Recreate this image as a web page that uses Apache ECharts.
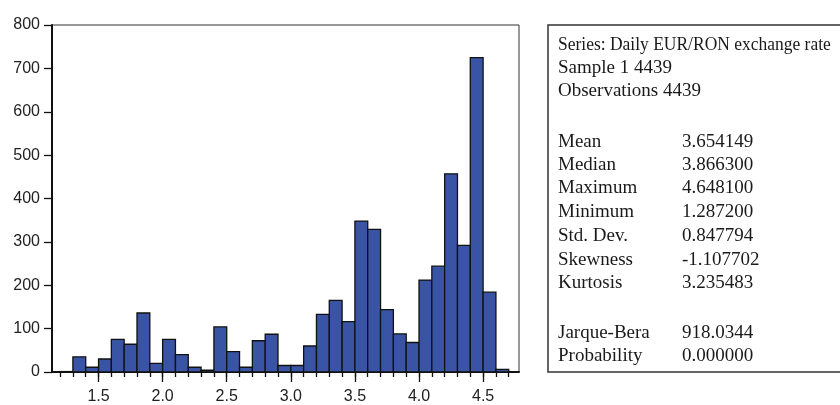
<!DOCTYPE html>
<html>
<head>
<meta charset="utf-8">
<script src="https://cdn.jsdelivr.net/npm/echarts@6/dist/echarts.min.js"></script>
<style>html,body{margin:0;padding:0;background:#fff}#c{width:840px;height:405px}</style>
</head>
<body>
<div id="c"></div>
<script>
// Histogram bins (lower edge, upper edge) and counts
const binStarts = [1.2,1.3,1.4,1.5,1.6,1.7,1.8,1.9,2.0,2.1,2.2,2.3,2.4,2.5,2.6,2.7,2.8,2.9,3.0,3.1,3.2,3.3,3.4,3.5,3.6,3.7,3.8,3.9,4.0,4.1,4.2,4.3,4.4,4.5,4.6];
const binWidth = 0.1;
const counts = [1,35,11,30,75,64,136,20,75,40,11,4,104,47,11,72,87,15,15,60,133,165,116,348,329,144,88,68,212,244,457,292,725,184,6];
const xTickLabels = [1.5,2.0,2.5,3.0,3.5,4.0,4.5];
const xMinorTicks = [1.2,1.3,1.4,1.5,1.6,1.7,1.8,1.9,2.0,2.1,2.2,2.3,2.4,2.5,2.6,2.7,2.8,2.9,3.0,3.1,3.2,3.3,3.4,3.5,3.6,3.7,3.8,3.9,4.0,4.1,4.2,4.3,4.4,4.5,4.6,4.7];
const headerLines = ["Series: Daily EUR/RON exchange rate","Sample 1 4439","Observations 4439"];
const statLabels = ["Mean","Median","Maximum","Minimum","Std. Dev.","Skewness","Kurtosis"];
const statValues = ["3.654149","3.866300","4.648100","1.287200","0.847794","-1.107702","3.235483"];
const testLabels = ["Jarque-Bera","Probability"];
const testValues = ["918.0344","0.000000"];

const chart = echarts.init(document.getElementById('c'), null, {renderer:'canvas'});
const data = binStarts.map((s,i)=>[s, s+binWidth, counts[i]]);

const serif = "'Liberation Serif', 'Times New Roman', serif";
const sans = "'Liberation Sans', Arial, sans-serif";
const txtCol = '#1a1a1a';
const graphics = [{
  type:'rect', shape:{x:548, y:25, width:320, height:347},
  style:{fill:'none', stroke:'#333', lineWidth:1.5}, z:10
}];
const rowY = [45,68,91];
headerLines.forEach((t,i)=>graphics.push({type:'text', x:558, y:rowY[i], scaleX:(i===0?0.92:1), style:{text:t, font:'19px '+serif, fill:txtCol, textVerticalAlign:'middle'}}));
const statY = [142,165,188,212,236,260,283];
statLabels.forEach((t,i)=>{
  graphics.push({type:'text', x:558, y:statY[i], style:{text:t, font:'19px '+serif, fill:txtCol, textVerticalAlign:'middle'}});
  graphics.push({type:'text', x:682, y:statY[i], style:{text:statValues[i], font:'19px '+serif, fill:txtCol, textVerticalAlign:'middle'}});
});
const testY = [333,356];
testLabels.forEach((t,i)=>{
  graphics.push({type:'text', x:558, y:testY[i], style:{text:t, font:'19px '+serif, fill:txtCol, textVerticalAlign:'middle'}});
  graphics.push({type:'text', x:682, y:testY[i], style:{text:testValues[i], font:'19px '+serif, fill:txtCol, textVerticalAlign:'middle'}});
});

chart.setOption({
  animation:false,
  grid:{left:52, top:25, right:321, bottom:30, show:true, borderColor:'#333', borderWidth:1},
  xAxis:[{
    type:'value', min:1.137, max:4.78,
    axisLine:{show:true, lineStyle:{color:'#111', width:2}},
    axisTick:{show:true, customValues:xMinorTicks, length:5, lineStyle:{color:'#111', width:1.3}},
    axisLabel:{show:false},
    splitLine:{show:false}
  },{
    type:'value', min:1.137, max:4.78, position:'bottom',
    axisLine:{show:false},
    axisTick:{show:true, customValues:xTickLabels, length:10, lineStyle:{color:'#111', width:1.3}},
    axisLabel:{show:true, customValues:xTickLabels, margin:17, color:'#222', fontFamily:sans, fontSize:16,
      formatter:v=>v.toFixed(1)},
    splitLine:{show:false}
  }],
  yAxis:{
    type:'value', min:0, max:800, interval:100,
    axisLine:{show:true, lineStyle:{color:'#111', width:2}},
    axisTick:{show:true, length:8, lineStyle:{color:'#111', width:1.3}},
    axisLabel:{margin:12, color:'#222', fontFamily:sans, fontSize:16},
    splitLine:{show:false}
  },
  series:[{
    type:'custom',
    xAxisIndex:0,
    data:data,
    renderItem:(params, api)=>{
      const p0 = api.coord([api.value(0), api.value(2)]);
      const p1 = api.coord([api.value(1), 0]);
      return {type:'rect', shape:{x:p0[0], y:p0[1], width:p1[0]-p0[0], height:p1[1]-p0[1]},
        style:{fill:'#3a54a5', stroke:'#111', lineWidth:1.3}};
    },
    encode:{x:[0,1], y:2}
  }],
  graphic:graphics
});
</script>
</body>
</html>
